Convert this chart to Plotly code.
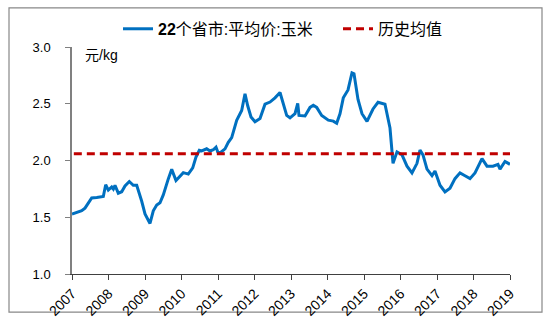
import plotly.graph_objects as go

# ---- data ----
# time as decimal years
years = [
    2007.00, 2007.129, 2007.266, 2007.356, 2007.447, 2007.540, 2007.677, 2007.814,
    2007.858, 2007.923, 2007.995, 2008.088, 2008.132, 2008.178, 2008.268, 2008.362,
    2008.452, 2008.570, 2008.679, 2008.773, 2008.816, 2008.910, 2009.000, 2009.137,
    2009.227, 2009.321, 2009.411, 2009.501, 2009.638, 2009.732, 2009.849, 2009.959,
    2010.049, 2010.186, 2010.307, 2010.397, 2010.488, 2010.553, 2010.690, 2010.781,
    2010.871, 2010.945, 2010.992, 2011.055, 2011.192, 2011.282, 2011.375, 2011.512,
    2011.649, 2011.740, 2011.814, 2011.904, 2012.014, 2012.151, 2012.288, 2012.425,
    2012.562, 2012.699, 2012.789, 2012.882, 2012.973, 2013.110, 2013.184, 2013.219,
    2013.384, 2013.521, 2013.611, 2013.704, 2013.841, 2014.022, 2014.159, 2014.252,
    2014.342, 2014.433, 2014.562, 2014.671, 2014.726, 2014.836, 2014.945, 2015.082,
    2015.247, 2015.384, 2015.575, 2015.712, 2015.795, 2015.849, 2015.904, 2016.041,
    2016.178, 2016.315, 2016.452, 2016.534, 2016.616, 2016.726, 2016.863, 2016.945,
    2017.082, 2017.219, 2017.356, 2017.493, 2017.630, 2017.767, 2017.904, 2018.041,
    2018.233, 2018.370, 2018.534, 2018.671, 2018.726, 2018.863, 2019.000,
]
corn_price = [
    1.529, 1.544, 1.557, 1.580, 1.628, 1.670, 1.675, 1.678,
    1.683, 1.787, 1.739, 1.767, 1.748, 1.782, 1.712, 1.725,
    1.776, 1.815, 1.782, 1.782, 1.739, 1.641, 1.529, 1.445,
    1.557, 1.608, 1.628, 1.697, 1.838, 1.922, 1.824, 1.866,
    1.893, 1.880, 1.935, 2.030, 2.090, 2.084, 2.103, 2.084,
    2.095, 2.118, 2.076, 2.067, 2.103, 2.160, 2.202, 2.355,
    2.440, 2.588, 2.482, 2.384, 2.342, 2.370, 2.496, 2.515,
    2.552, 2.599, 2.496, 2.397, 2.376, 2.412, 2.504, 2.397,
    2.392, 2.468, 2.487, 2.468, 2.397, 2.355, 2.347, 2.328,
    2.412, 2.552, 2.622, 2.773, 2.765, 2.538, 2.412, 2.345,
    2.454, 2.513, 2.496, 2.286, 1.975, 2.034, 2.076, 2.050,
    1.950, 1.891, 1.975, 2.092, 2.050, 1.924, 1.866, 1.908,
    1.782, 1.723, 1.756, 1.840, 1.891, 1.866, 1.840, 1.891,
    2.017, 1.950, 1.950, 1.966, 1.924, 1.992, 1.966,
]
mean_years = [2007.05, 2019.0]
hist_mean = [2.06, 2.06]
year_ticks = list(range(2007, 2020))
y_ticks = [1.0, 1.5, 2.0, 2.5, 3.0]

series_name = "<b>22</b>个省市:平均价:玉米"
mean_name = "历史均值"
unit_label = "元/kg"

FONT = "Liberation Sans, Noto Sans CJK SC, sans-serif"

fig = go.Figure()
fig.add_trace(go.Scatter(
    x=years, y=corn_price, mode="lines", name=series_name,
    line=dict(color="#0070C0", width=3), legend="legend",
))
fig.add_trace(go.Scatter(
    x=mean_years, y=hist_mean, mode="lines", name=mean_name,
    line=dict(color="#C00000", width=3, dash="8px,5px"), legend="legend2",
))

legend_common = dict(
    orientation="h", xanchor="left", y=(283 - 26) / 238, yanchor="middle",
    font=dict(size=16, family=FONT, color="#000000"),
    bgcolor="rgba(0,0,0,0)",
)

fig.update_layout(
    width=551, height=331,
    margin=dict(l=72, r=41, t=45, b=48),
    paper_bgcolor="white", plot_bgcolor="white",
    font=dict(family=FONT, size=13, color="#000000"),
    showlegend=True,
    legend=dict(x=(118 - 72) / 438, **legend_common),
    legend2=dict(x=(338 - 72) / 438, **legend_common),
)

fig.update_xaxes(
    range=[2007, 2019],
    tickvals=year_ticks,
    ticktext=[str(y) for y in year_ticks],
    tickangle=-45,
    showgrid=False, zeroline=False,
    showline=True, linecolor="#404040", linewidth=1.2,
    ticks="outside", ticklen=5, tickcolor="#404040",
    tickfont=dict(size=14, family=FONT),
)
fig.update_yaxes(
    range=[1.0, 3.0],
    tickvals=y_ticks,
    tickformat=".1f",
    showgrid=False, zeroline=False,
    showline=True, linecolor="#808080", linewidth=1.5,
    ticks="outside", ticklen=5, tickcolor="#808080",
    ticklabelstandoff=12,
    tickfont=dict(size=13, family=FONT),
)

fig.add_annotation(
    text=unit_label, xref="paper", yref="paper",
    x=(83 - 72) / 438, y=(283 - 53) / 238, xanchor="left", yanchor="middle",
    showarrow=False, font=dict(size=14, family=FONT, color="#000000"),
)

# outer chart border
fig.add_shape(
    type="rect", xref="paper", yref="paper",
    x0=(9 - 72) / 438, x1=(542 - 72) / 438,
    y0=(283 - 323) / 238, y1=(283 - 4) / 238,
    line=dict(color="#888888", width=1.2), fillcolor="rgba(0,0,0,0)", layer="below",
)

fig.write_html("out.html")
